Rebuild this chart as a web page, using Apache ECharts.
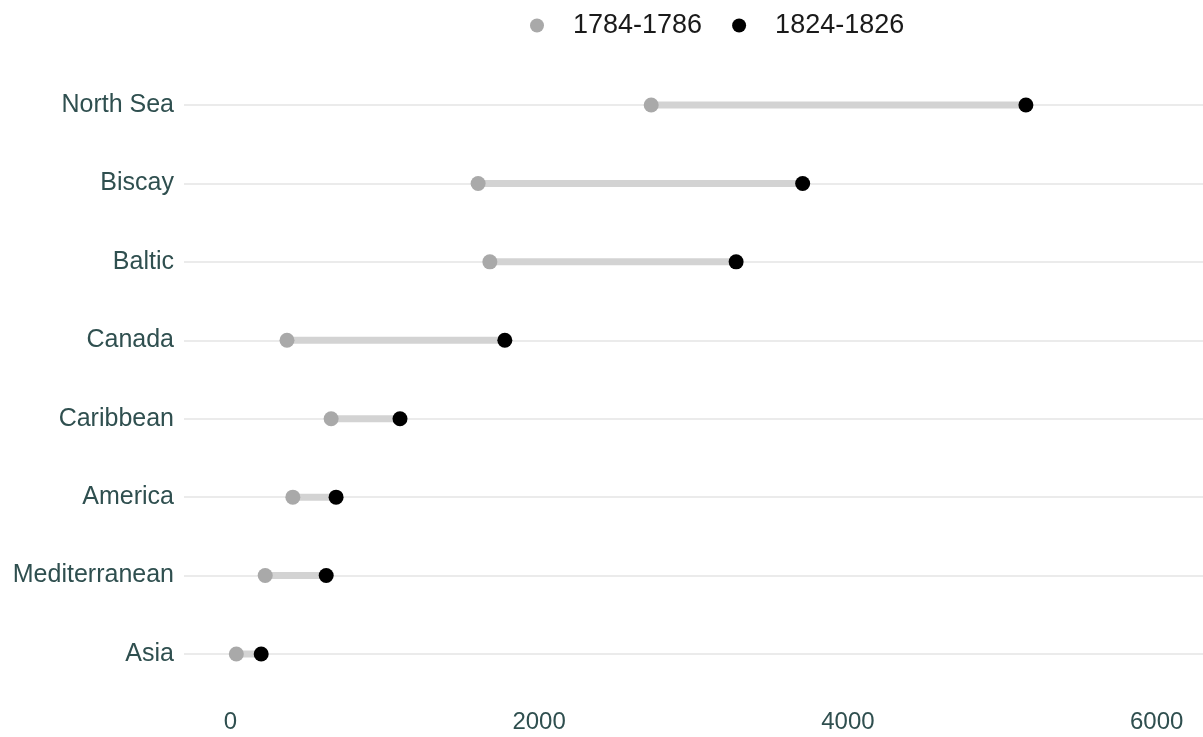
<!DOCTYPE html>
<html>
<head>
<meta charset="utf-8">
<script src="https://cdn.jsdelivr.net/npm/echarts@6/dist/echarts.min.js"></script>
<style>html,body{margin:0;padding:0;background:#fff;}#c{width:1203px;height:737px;}</style>
</head>
<body>
<div id="c"></div>
<script>
const regions = ['North Sea', 'Biscay', 'Baltic', 'Canada', 'Caribbean', 'America', 'Mediterranean', 'Asia'];
const early = [2726, 1605, 1681, 367, 653, 405, 226, 39];    // 1784-1786
const late  = [5153, 3707, 3276, 1778, 1099, 685, 621, 200]; // 1824-1826
const seriesNames = ['1784-1786', '1824-1826'];
const xTicks = [0, 2000, 4000, 6000];

const chart = echarts.init(document.getElementById('c'));
const segData = regions.map((r, i) => [early[i], late[i], r]);

chart.setOption({
  animation: false,
  backgroundColor: '#ffffff',
  textStyle: { fontFamily: 'Liberation Sans, Arial, sans-serif' },
  legend: {
    data: seriesNames,
    top: 7,
    left: 525,
    icon: 'circle',
    itemWidth: 14,
    itemHeight: 14,
    itemGap: 30,
    textStyle: { fontSize: 27, color: '#1a1a1a', padding: [0, 0, 0, 24] }
  },
  grid: { left: 184, right: -1, top: 105, bottom: 83, containLabel: false },
  xAxis: {
    type: 'value',
    min: -300,
    max: 6300,
    interval: 2000,
    axisLine: { show: false },
    axisTick: { show: false },
    splitLine: { show: false },
    axisLabel: {
      fontSize: 24,
      color: '#2F4F4F',
      margin: 56,
      customValues: xTicks,
      formatter: v => xTicks.includes(v) ? String(v) : ''
    }
  },
  yAxis: {
    type: 'category',
    data: regions,
    inverse: true,
    boundaryGap: false,
    axisLine: { show: false },
    axisTick: { show: false },
    axisLabel: { fontSize: 25, color: '#2F4F4F', margin: 10, padding: [3, 0, 0, 0] },
    splitLine: { show: true, lineStyle: { color: '#ebebeb', width: 2 } }
  },
  series: [
    {
      type: 'custom',
      name: 'seg',
      z: 1,
      data: segData,
      encode: { x: [0, 1], y: 2 },
      renderItem: function (params, api) {
        const p1 = api.coord([api.value(0), api.value(2)]);
        const p2 = api.coord([api.value(1), api.value(2)]);
        return {
          type: 'line',
          shape: { x1: p1[0], y1: p1[1], x2: p2[0], y2: p2[1] },
          style: { stroke: '#d3d3d3', lineWidth: 7 }
        };
      }
    },
    {
      type: 'scatter',
      name: seriesNames[0],
      z: 3,
      symbolSize: 15,
      itemStyle: { color: '#a9a9a9', opacity: 1 },
      data: regions.map((r, i) => [early[i], r])
    },
    {
      type: 'scatter',
      name: seriesNames[1],
      z: 4,
      symbolSize: 15,
      itemStyle: { color: '#000000', opacity: 1 },
      data: regions.map((r, i) => [late[i], r])
    }
  ]
});
</script>
</body>
</html>
